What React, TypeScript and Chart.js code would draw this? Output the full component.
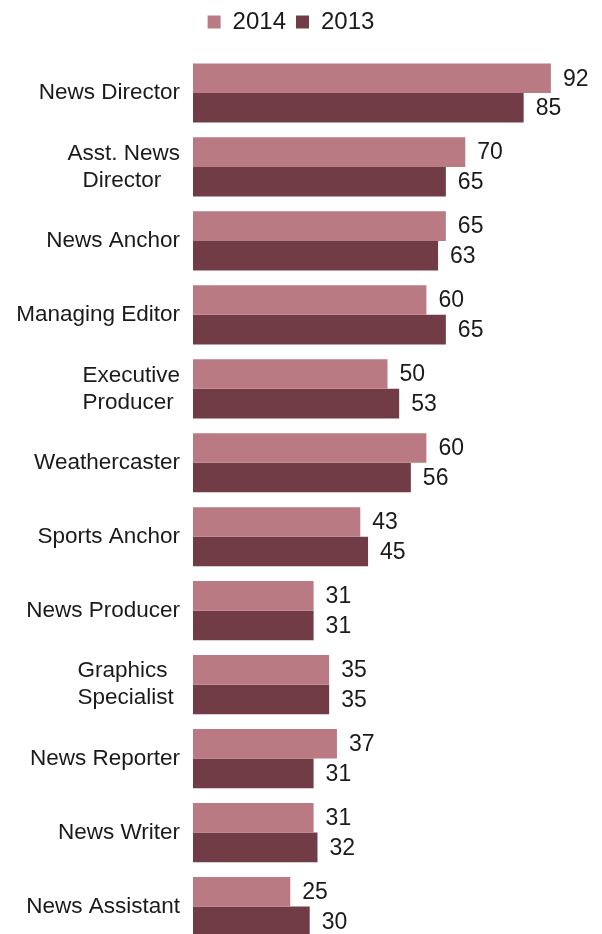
import { useEffect, useRef } from 'react';
import { Chart, registerables } from 'chart.js';

Chart.register(...registerables);

const categories: string[][] = [
  ['News Director'],
  ['Asst. News', 'Director   '],
  ['News Anchor'],
  ['Managing Editor'],
  ['Executive', 'Producer '],
  ['Weathercaster'],
  ['Sports Anchor'],
  ['News Producer'],
  ['Graphics  ', 'Specialist '],
  ['News Reporter'],
  ['News Writer'],
  ['News Assistant'],
];
const values2014 = [92, 70, 65, 60, 50, 60, 43, 31, 35, 37, 31, 25];
const values2013 = [85, 65, 63, 65, 53, 56, 45, 31, 35, 31, 32, 30];
const seriesLabels = ['2014', '2013'];
const seriesColors = ['#B97A84', '#723C47'];

const FONT = "'Liberation Sans', Arial, sans-serif";
const TEXT = '#1a1a1a';

const valueLabels = {
  id: 'valueLabels',
  afterDatasetsDraw(chart: any) {
    const ctx = chart.ctx;
    ctx.save();
    ctx.font = `23px ${FONT}`;
    ctx.fillStyle = TEXT;
    ctx.textAlign = 'left';
    ctx.textBaseline = 'middle';
    chart.data.datasets.forEach((ds: any, i: number) => {
      const meta = chart.getDatasetMeta(i);
      meta.data.forEach((bar: any, j: number) => {
        ctx.fillText(String(ds.data[j]), bar.x + 12, bar.y + 1);
      });
    });
    ctx.restore();
  },
};

export default function App() {
  const ref = useRef<HTMLCanvasElement | null>(null);
  useEffect(() => {
    if (!ref.current) return;
    const chart = new Chart(ref.current, {
      type: 'bar',
      data: {
        labels: categories,
        datasets: [
          {
            label: seriesLabels[0],
            data: values2014,
            backgroundColor: seriesColors[0],
            borderWidth: 0,
            barPercentage: 1,
            categoryPercentage: 0.8,
          },
          {
            label: seriesLabels[1],
            data: values2013,
            backgroundColor: seriesColors[1],
            borderWidth: 0,
            barPercentage: 1,
            categoryPercentage: 0.8,
          },
        ],
      },
      options: {
        indexAxis: 'y',
        responsive: false,
        animation: false,
        layout: { padding: { left: 0, right: 20, top: 0, bottom: 0 } },
        plugins: {
          legend: {
            position: 'top',
            labels: {
              boxWidth: 13,
              boxHeight: 13,
              padding: 10,
              color: TEXT,
              font: { family: FONT, size: 24 },
            },
          },
          tooltip: { enabled: false },
        },
        scales: {
          x: {
            position: 'top',
            min: 0,
            max: 100,
            ticks: { display: false },
            grid: { display: false, drawTicks: false },
            border: { display: false },
            afterFit(scale: any) {
              scale.height = 12;
            },
          },
          y: {
            ticks: {
              color: TEXT,
              font: { family: FONT, size: 22.5, lineHeight: 1.2 },
              padding: 13,
              crossAlign: 'near',
              autoSkip: false,
            },
            grid: { display: false, drawTicks: false },
            border: { display: false },
            afterFit(scale: any) {
              scale.width = 193;
            },
          },
        },
      } as any,
      plugins: [valueLabels],
    });
    return () => chart.destroy();
  }, []);

  return (
    <div
      style={{
        position: 'fixed',
        left: 0,
        top: 0,
        width: 602,
        height: 934,
        overflow: 'hidden',
        background: '#fff',
      }}
    >
      <canvas ref={ref} width={602} height={970} style={{ display: 'block' }} />
    </div>
  );
}
